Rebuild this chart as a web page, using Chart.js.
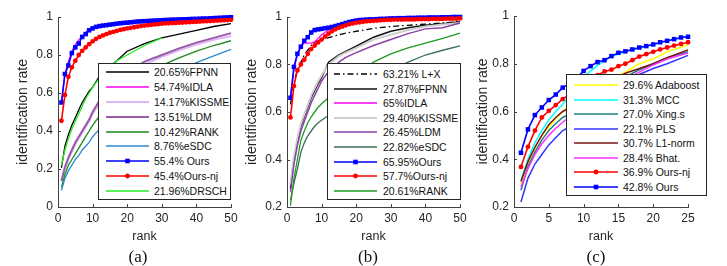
<!DOCTYPE html>
<html>
<head>
<meta charset="utf-8">
<script src="https://cdn.jsdelivr.net/npm/chart.js@4.4.1/dist/chart.umd.min.js"></script>
<style>
  html, body { margin: 0; padding: 0; background: #fff; }
  #wrap { position: relative; width: 727px; height: 266px; overflow: hidden; font-family: "Liberation Sans", Arial, sans-serif; }
  .panel { position: absolute; top: 0; height: 266px; }
  .leg { position: absolute; background: #fff; border: 1px solid #262626; box-sizing: border-box; z-index: 2; }
  .row { position: absolute; height: 14px; font-size: 10.5px; line-height: 14px; color: #111; white-space: nowrap; }
  .leg svg { position: absolute; }
  .cap { position: absolute; top: 247px; width: 40px; margin-left: -20px; text-align: center; font-family: "Liberation Serif", "Times New Roman", serif; font-size: 17px; color: #111; }
</style>
</head>
<body>
<div id="wrap">
  <div class="panel" style="left:0;width:242px"><canvas id="chartA"></canvas></div>
  <div class="panel" style="left:236px;width:238px"><canvas id="chartB"></canvas></div>
  <div class="panel" style="left:474px;width:253px"><canvas id="chartC"></canvas></div>
  <div class="cap" style="left:138px">(a)</div>
  <div class="cap" style="left:368px">(b)</div>
  <div class="cap" style="left:596px">(c)</div>
</div>
<script>
// ---------- panel (a) ----------
const ranksA = [1, 2, 3, 4, 5, 6, 7, 8, 9, 10, 12, 15, 17, 20, 25, 30, 35, 40, 45, 50];
const ranks50 = [1, 2, 3, 4, 5, 6, 7, 8, 9, 10, 11, 12, 13, 14, 15, 16, 17, 18, 19, 20, 21, 22, 23, 24, 25,
  26, 27, 28, 29, 30, 31, 32, 33, 34, 35, 36, 37, 38, 39, 40, 41, 42, 43, 44, 45, 46, 47, 48, 49, 50];
const fpnnA = [.2065, .32, .38, .43, .47, .51, .55, .58, .61, .63, .69, .74, .77, .82, .86, .89, .91, .93, .95, .965];
const idlaA = [.5474, .70, .765, .82, .855, .88, .90, .92, .935, .945, .955, .965, .97, .978, .985, .99, .993, .995, .997, 1.0];
const kissmeA = [.1417, .20, .25, .29, .33, .36, .39, .42, .45, .49, .545, .605, .645, .695, .75, .79, .825, .855, .88, .90];
const ldmA = [.1351, .21, .26, .30, .34, .37, .40, .43, .46, .50, .56, .62, .66, .71, .765, .80, .835, .865, .89, .915];
const rankA = [.1042, .17, .22, .25, .28, .31, .34, .37, .40, .43, .48, .55, .59, .64, .70, .745, .785, .82, .85, .875];
const esdcA = [.0876, .15, .19, .22, .25, .27, .30, .32, .34, .37, .41, .47, .51, .56, .62, .67, .72, .76, .795, .83];
const drschA = [.2196, .30, .36, .41, .45, .49, .53, .57, .60, .63, .68, .74, .77, .80, .85, .89]; // ranks 1..30
const oursA = [.55, .70, .745, .81, .84, .86, .895, .91, .93, .94, .948, .952, .955, .957, .96, .962, .965, .967, .969, .970,
  .972, .974, .976, .977, .978, .979, .980, .981, .982, .983, .984, .985, .986, .986, .987, .988, .988, .989, .990, .990,
  .991, .992, .992, .993, .994, .995, .996, .997, .998, .999];
const oursNjA = [.454, .59, .685, .735, .77, .80, .822, .84, .857, .872, .885, .895, .903, .91, .917, .922, .927, .932, .936, .94,
  .943, .946, .949, .952, .955, .957, .959, .961, .963, .965, .966, .967, .968, .969, .970, .971, .972, .973, .974, .975,
  .976, .977, .978, .979, .980, .981, .982, .983, .984, .985];
const namesA = ['20.65%FPNN', '54.74%IDLA', '14.17%KISSME', '13.51%LDM', '10.42%RANK', '8.76%eSDC', '55.4% Ours', '45.4%Ours-nj', '21.96%DRSCH'];

// ---------- panel (b) ----------
const ranksB = [1, 2, 3, 4, 5, 6, 7, 8, 9, 10, 12, 15, 17, 20, 25, 30, 35, 40, 45, 50];
const lxB = [.632, .72, .78, .81, .84, .86, .88, .893, .90, .905, .913, .925, .932, .94, .952, .96, .965, .97, .975, .98];
const fpnnB = [.2787, .40, .48, .54, .58, .62, .66, .69, .72, .745, .81, .84, .855, .877, .915, .94, .955, .965, .972, .98];
const idlaB = [.65, .78, .84, .875, .89, .89, .89, .895, .91, .925, .945, .965, .975, .985, .99, .992, .994, .995, .996, .997];
const kissmeB = [.294, .41, .49, .55, .59, .63, .67, .70, .73, .755, .80, .835, .85, .87, .905, .925, .945, .96, .968, .975];
const ldmB = [.2645, .38, .46, .52, .56, .60, .64, .67, .70, .73, .77, .81, .83, .85, .88, .905, .93, .95, .955, .975];
const esdcB = [.228, .30, .36, .43, .47, .50, .52, .54, .555, .565, .585, .615, .635, .665, .72, .775, .81, .84, .86, .878];
const rankB = [.206, .32, .40, .48, .52, .555, .58, .60, .62, .635, .66, .70, .72, .755, .81, .845, .87, .89, .91, .932];
const oursB = [.66, .79, .845, .875, .90, .915, .935, .945, .948, .95, .953, .955, .958, .962, .966, .970, .975, .979, .982, .985,
  .987, .988, .989, .990, .990, .991, .992, .992, .993, .994, .994, .995, .995, .995, .996, .996, .996, .997, .997, .997,
  .998, .998, .998, .998, .999, .999, .999, 1.0, 1.0, 1.0];
const oursNjB = [.577, .71, .775, .80, .82, .845, .865, .88, .893, .905, .918, .93, .94, .948, .955, .96, .965, .97, .973, .976,
  .978, .98, .982, .983, .984, .985, .986, .987, .988, .988, .989, .989, .989, .990, .990, .990, .990, .991, .991, .991,
  .991, .992, .992, .992, .992, .993, .993, .993, .993, .994];
const namesB = ['63.21% L+X', '27.87%FPNN', '65%IDLA', '29.40%KISSME', '26.45%LDM', '22.82%eSDC', '65.95%Ours', '57.7%Ours-nj', '20.61%RANK'];

// ---------- panel (c) ----------
const ranksC = [1, 2, 3, 4, 5, 6, 7, 8, 9, 10, 12, 14, 16, 18, 20, 22, 25];
const ranks25 = [1, 2, 3, 4, 5, 6, 7, 8, 9, 10, 11, 12, 13, 14, 15, 16, 17, 18, 19, 20, 21, 22, 23, 24, 25];
const adaboostC = [.296, .38, .45, .50, .535, .57, .60, .63, .65, .67, .705, .74, .765, .80, .82, .85, .879];
const mccC = [.313, .40, .47, .52, .565, .60, .63, .67, .71, .745, .793, .83, .85, .865, .88, .895, .915];
const xingC = [.27, .37, .43, .48, .52, .55, .575, .59, .61, .63, .67, .71, .745, .775, .80, .825, .85];
const plsC = [.221, .32, .38, .42, .46, .49, .52, .535, .55, .57, .615, .665, .715, .755, .78, .80, .835];
const l1C = [.307, .39, .45, .50, .545, .575, .60, .615, .635, .655, .695, .73, .76, .78, .80, .825, .858];
const bhatC = [.284, .36, .42, .465, .50, .53, .555, .578, .60, .62, .66, .70, .735, .765, .795, .82, .845];
const oursNjC = [.368, .452, .52, .575, .603, .627, .652, .672, .695, .715, .735, .752, .768, .775, .79, .80, .815, .83, .84, .85,
  .86, .868, .876, .883, .89];
const oursC = [.427, .525, .585, .617, .648, .671, .70, .717, .74, .77, .79, .807, .815, .832, .846, .852, .86, .868, .874, .881,
  .89, .896, .903, .91, .913];
const namesC = ['29.6% Adaboost', '31.3% MCC', '27.0% Xing.s', '22.1% PLS', '30.7% L1-norm', '28.4% Bhat.', '36.9% Ours-nj', '42.8% Ours'];

const pts = (xs, ys) => ys.map((v, i) => ({ x: xs[i], y: v }));

Chart.defaults.font.family = '"Liberation Sans", Arial, sans-serif';
Chart.defaults.color = '#262626';

// MATLAB-like ticks pointing into the axes
const inTicks = {
  id: 'inTicks',
  afterDraw(chart) {
    const { ctx, chartArea: a, scales: { x, y } } = chart;
    ctx.save();
    ctx.strokeStyle = '#404040';
    ctx.lineWidth = 1;
    ctx.beginPath();
    x.ticks.forEach(t => {
      const px = Math.round(x.getPixelForValue(t.value)) + 0.5;
      ctx.moveTo(px, a.bottom); ctx.lineTo(px, a.bottom - 3);
    });
    y.ticks.forEach(t => {
      const py = Math.round(y.getPixelForValue(t.value)) + 0.5;
      ctx.moveTo(a.left, py); ctx.lineTo(a.left + 3, py);
    });
    ctx.stroke();
    ctx.restore();
  }
};

function makeChart(id, series, cfg) {
  const n = series.length;
  const datasets = series.map((s, i) => ({
    label: s.name,
    data: s.data,
    borderColor: s.c,
    backgroundColor: s.c,
    borderWidth: s.w || 1.3,
    borderDash: s.dash || [],
    pointStyle: s.pt || 'circle',
    pointRadius: s.pt === 'rect' ? 3.2 : (s.pt ? 2.4 : 0),
    pointBorderWidth: 0,
    tension: 0,
    clip: 4,
    order: n - i
  }));
  new Chart(document.getElementById(id), {
    type: 'line',
    data: { datasets },
    plugins: [inTicks],
    options: {
      responsive: true,
      maintainAspectRatio: false,
      animation: false,
      layout: { padding: cfg.pad },
      plugins: { legend: { display: false }, tooltip: { enabled: false } },
      scales: {
        x: {
          type: 'linear', min: 0, max: cfg.xmax,
          ticks: { stepSize: cfg.xstep, padding: 4, font: { size: 12 }, color: '#262626' },
          grid: { display: false, drawTicks: false },
          border: { color: '#404040', width: 1 },
          title: { display: true, text: 'rank', font: { size: 12.5 }, padding: 0, color: '#262626' },
          afterFit: s => { s.height = 37; }
        },
        y: {
          min: cfg.ymin, max: 1,
          ticks: { stepSize: 0.2, padding: 5, font: { size: 12 }, color: '#262626', callback: v => String(+v.toFixed(1)) },
          grid: { display: false, drawTicks: false },
          border: { color: '#404040', width: 1 },
          title: { display: true, text: 'identification rate', font: { size: 14 }, padding: 0, color: '#262626' },
          afterFit: s => { s.width = cfg.yw; }
        }
      }
    }
  });
}

function makeLegend(series, L) {
  const box = document.createElement('div');
  box.className = 'leg';
  Object.assign(box.style, { left: L.left + 'px', top: L.top + 'px', width: L.w + 'px', height: L.h + 'px' });
  series.forEach((s, i) => {
    const cy = L.first + i * L.step - L.top - 1;
    const svgNS = 'http://www.w3.org/2000/svg';
    const svg = document.createElementNS(svgNS, 'svg');
    svg.setAttribute('width', L.sw + 4);
    svg.setAttribute('height', 8);
    svg.style.left = (L.sx - L.left - 3) + 'px';
    svg.style.top = (cy - 4) + 'px';
    const ln = document.createElementNS(svgNS, 'line');
    ln.setAttribute('x1', 2); ln.setAttribute('x2', L.sw + 2);
    ln.setAttribute('y1', 4); ln.setAttribute('y2', 4);
    ln.setAttribute('stroke', s.c);
    ln.setAttribute('stroke-width', s.w || 1.3);
    if (s.dash) ln.setAttribute('stroke-dasharray', s.dash.join(' '));
    svg.appendChild(ln);
    if (s.pt) {
      const m = document.createElementNS(svgNS, s.pt === 'rect' ? 'rect' : 'circle');
      if (s.pt === 'rect') {
        m.setAttribute('x', L.sw / 2 + 2 - 2.3); m.setAttribute('y', 1.7);
        m.setAttribute('width', 4.6); m.setAttribute('height', 4.6);
      } else {
        m.setAttribute('cx', L.sw / 2 + 2); m.setAttribute('cy', 4); m.setAttribute('r', 2.4);
      }
      m.setAttribute('fill', s.c);
      svg.appendChild(m);
    }
    box.appendChild(svg);
    const t = document.createElement('div');
    t.className = 'row';
    t.textContent = s.name;
    t.style.left = (L.tx - L.left - 1) + 'px';
    t.style.top = (cy - 7) + 'px';
    box.appendChild(t);
  });
  document.getElementById('wrap').appendChild(box);
}

const seriesA = [
  { name: namesA[0], data: pts(ranksA, fpnnA), c: '#000000' },
  { name: namesA[1], data: pts(ranksA, idlaA), c: '#ff00ff' },
  { name: namesA[2], data: pts(ranksA, kissmeA), c: '#dcb8f4', w: 2 },
  { name: namesA[3], data: pts(ranksA, ldmA), c: '#9b5aa8', w: 2 },
  { name: namesA[4], data: pts(ranksA, rankA), c: '#1c8a1c' },
  { name: namesA[5], data: pts(ranksA, esdcA), c: '#2b8ad2' },
  { name: namesA[6], data: pts(ranks50, oursA), c: '#0000ff', w: 1.6, pt: 'rect' },
  { name: namesA[7], data: pts(ranks50, oursNjA), c: '#ff0000', w: 1.6, pt: 'circle' },
  { name: namesA[8], data: pts(ranksA, drschA), c: '#22ee22' }
];
const seriesB = [
  { name: namesB[0], data: pts(ranksB, lxB), c: '#000000', dash: [6, 3, 1.5, 3] },
  { name: namesB[1], data: pts(ranksB, fpnnB), c: '#111111', w: 1.5 },
  { name: namesB[2], data: pts(ranksB, idlaB), c: '#ff00ff' },
  { name: namesB[3], data: pts(ranksB, kissmeB), c: '#cfcfcf', w: 2 },
  { name: namesB[4], data: pts(ranksB, ldmB), c: '#8a3fa8', w: 1.5 },
  { name: namesB[5], data: pts(ranksB, esdcB), c: '#3c6e55' },
  { name: namesB[6], data: pts(ranks50, oursB), c: '#0000ff', w: 1.6, pt: 'rect' },
  { name: namesB[7], data: pts(ranks50, oursNjB), c: '#ff0000', w: 1.6, pt: 'circle' },
  { name: namesB[8], data: pts(ranksB, rankB), c: '#1f9a1f' }
];
const seriesC = [
  { name: namesC[0], data: pts(ranksC, adaboostC), c: '#ffff00', w: 1.5 },
  { name: namesC[1], data: pts(ranksC, mccC), c: '#00ffff', w: 1.5 },
  { name: namesC[2], data: pts(ranksC, xingC), c: '#1a8080', w: 1.5 },
  { name: namesC[3], data: pts(ranksC, plsC), c: '#3333ff', w: 1.5 },
  { name: namesC[4], data: pts(ranksC, l1C), c: '#7a1414', w: 1.5 },
  { name: namesC[5], data: pts(ranksC, bhatC), c: '#ff33ff', w: 1.5 },
  { name: namesC[6], data: pts(ranks25, oursNjC), c: '#ff0000', w: 1.6, pt: 'circle' },
  { name: namesC[7], data: pts(ranks25, oursC), c: '#0000ff', w: 1.6, pt: 'rect' }
];

makeChart('chartA', seriesA, { xmax: 50, xstep: 10, ymin: 0, yw: 43, pad: { left: 15, right: 11, top: 17, bottom: 22 } });
makeChart('chartB', seriesB, { xmax: 50, xstep: 10, ymin: 0.2, yw: 43, pad: { left: 8, right: 14, top: 17, bottom: 22 } });
makeChart('chartC', seriesC, { xmax: 25, xstep: 5, ymin: 0.2, yw: 39, pad: { left: 1, right: 39, top: 16, bottom: 22 } });

makeLegend(seriesA, { left: 98, top: 63, w: 133, h: 137, first: 72, step: 14.875, sx: 106, sw: 43, tx: 154 });
makeLegend(seriesB, { left: 327, top: 63, w: 134, h: 137, first: 74, step: 14.6, sx: 334, sw: 43, tx: 383 });
makeLegend(seriesC, { left: 566, top: 74, w: 141, h: 122, first: 85, step: 14.57, sx: 574, sw: 44, tx: 623 });
</script>
</body>
</html>
